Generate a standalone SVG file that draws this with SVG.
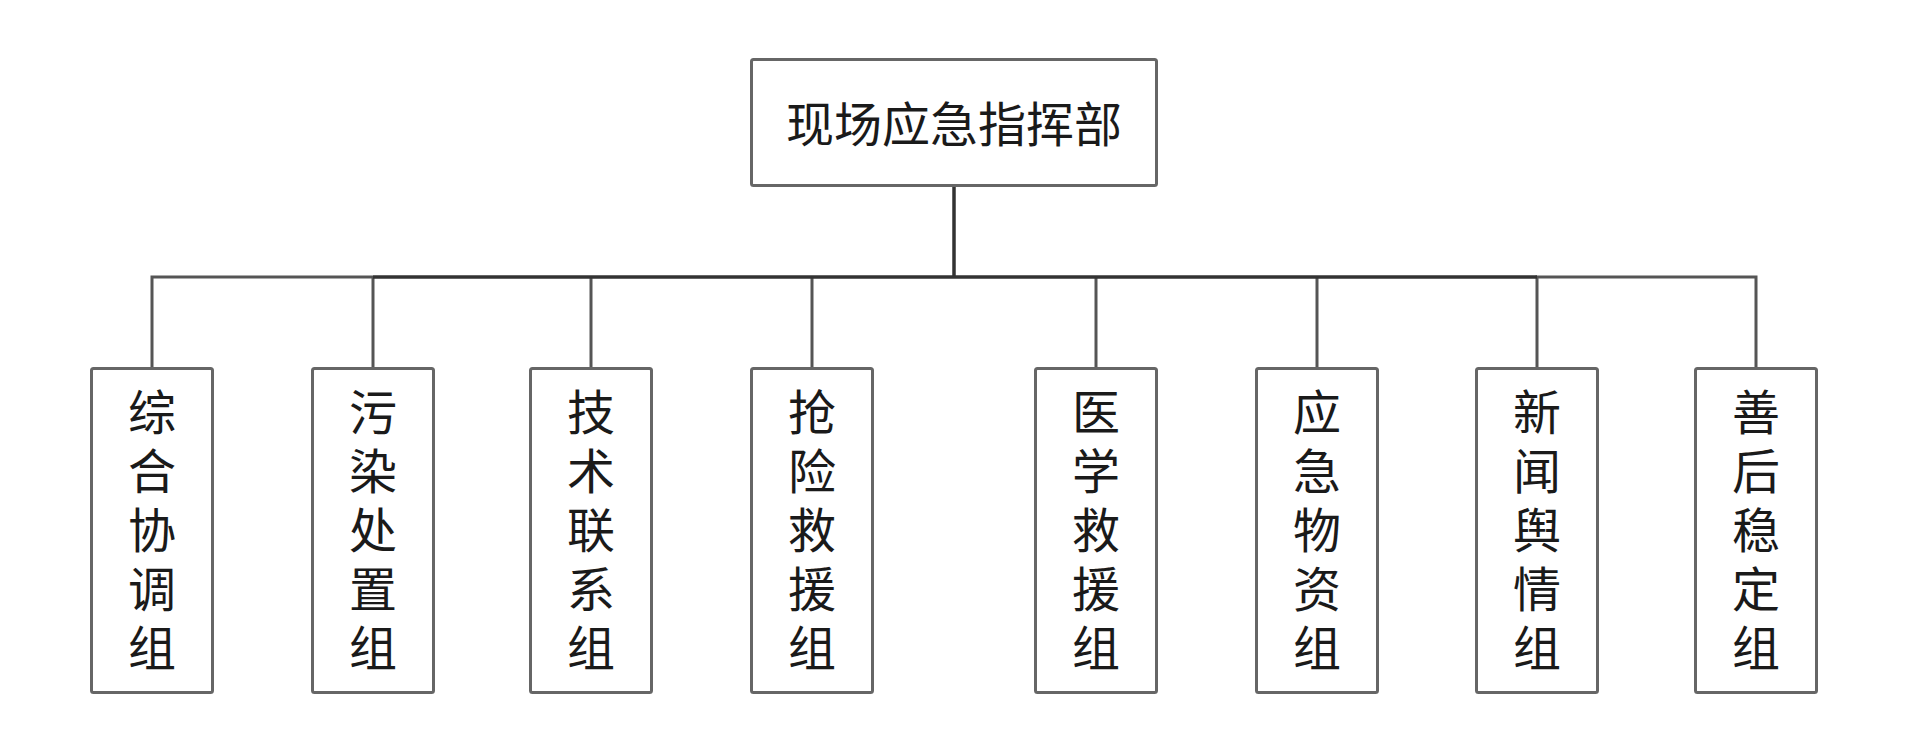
<svg xmlns="http://www.w3.org/2000/svg" width="1917" height="752" viewBox="0 0 1917 752">
<style>
.box{fill:#ffffff;stroke:#666666;stroke-width:3}
.t{font-family:"Noto Sans CJK SC","Noto Sans CJK JP",sans-serif;font-size:48px;fill:#1a1a1a;text-anchor:middle}
.br{fill:none;stroke:#555555;stroke-width:3}
.tr{fill:none;stroke:#333333;stroke-width:3.5}
</style>
<rect width="1917" height="752" fill="#ffffff"/>
<g id="connectors">
<path class="br" d="M152 368V277H373M152 277"/>
<path class="br" d="M373 368V277"/>
<path class="br" d="M591 368V277"/>
<path class="br" d="M812 368V277"/>
<path class="br" d="M1096 368V277"/>
<path class="br" d="M1317 368V277"/>
<path class="br" d="M1537 368V277H1756V368"/>
<path class="tr" d="M954 186V277M373 277H1537"/>
</g>
<g id="n0"><rect class="box" x="751.5" y="59.5" width="405" height="126" rx="2"/><text class="t" x="954" y="142">现场应急指挥部</text></g>
<g id="n1"><rect class="box" x="91.5" y="368.5" width="121" height="324" rx="2"/><text class="t" x="152"><tspan x="152" y="430">综</tspan><tspan x="152" y="489">合</tspan><tspan x="152" y="548">协</tspan><tspan x="152" y="607">调</tspan><tspan x="152" y="666">组</tspan></text></g>
<g id="n2"><rect class="box" x="312.5" y="368.5" width="121" height="324" rx="2"/><text class="t"><tspan x="373" y="430">污</tspan><tspan x="373" y="489">染</tspan><tspan x="373" y="548">处</tspan><tspan x="373" y="607">置</tspan><tspan x="373" y="666">组</tspan></text></g>
<g id="n3"><rect class="box" x="530.5" y="368.5" width="121" height="324" rx="2"/><text class="t"><tspan x="591" y="430">技</tspan><tspan x="591" y="489">术</tspan><tspan x="591" y="548">联</tspan><tspan x="591" y="607">系</tspan><tspan x="591" y="666">组</tspan></text></g>
<g id="n4"><rect class="box" x="751.5" y="368.5" width="121" height="324" rx="2"/><text class="t"><tspan x="812" y="430">抢</tspan><tspan x="812" y="489">险</tspan><tspan x="812" y="548">救</tspan><tspan x="812" y="607">援</tspan><tspan x="812" y="666">组</tspan></text></g>
<g id="n5"><rect class="box" x="1035.5" y="368.5" width="121" height="324" rx="2"/><text class="t"><tspan x="1096" y="430">医</tspan><tspan x="1096" y="489">学</tspan><tspan x="1096" y="548">救</tspan><tspan x="1096" y="607">援</tspan><tspan x="1096" y="666">组</tspan></text></g>
<g id="n6"><rect class="box" x="1256.5" y="368.5" width="121" height="324" rx="2"/><text class="t"><tspan x="1317" y="430">应</tspan><tspan x="1317" y="489">急</tspan><tspan x="1317" y="548">物</tspan><tspan x="1317" y="607">资</tspan><tspan x="1317" y="666">组</tspan></text></g>
<g id="n7"><rect class="box" x="1476.5" y="368.5" width="121" height="324" rx="2"/><text class="t"><tspan x="1537" y="430">新</tspan><tspan x="1537" y="489">闻</tspan><tspan x="1537" y="548">舆</tspan><tspan x="1537" y="607">情</tspan><tspan x="1537" y="666">组</tspan></text></g>
<g id="n8"><rect class="box" x="1695.5" y="368.5" width="121" height="324" rx="2"/><text class="t"><tspan x="1756" y="430">善</tspan><tspan x="1756" y="489">后</tspan><tspan x="1756" y="548">稳</tspan><tspan x="1756" y="607">定</tspan><tspan x="1756" y="666">组</tspan></text></g>
</svg>
